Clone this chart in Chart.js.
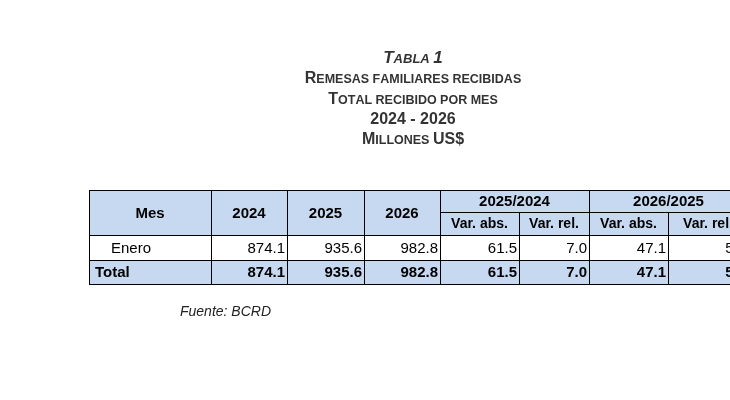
<!DOCTYPE html>
<html><head><meta charset="utf-8">
<script src="https://cdn.jsdelivr.net/npm/chart.js@4"></script>
<style>html,body{margin:0;padding:0;background:#fff}#w{width:730px;height:400px}</style>
</head><body><div id="w"><canvas id="c"></canvas></div>
<script>
const titleLines = ["Tabla 1","Remesas familiares recibidas","Total recibido por mes","2024 - 2026","Millones US$"];
const headers = ["Mes","2024","2025","2026"];
const groupHeaders = ["2025/2024","2026/2025"];
const subHeaders = ["Var. abs.","Var. rel.","Var. abs.","Var. rel."];
const rowLabels = ["Enero","Total"];
const v2024 = [874.1, 874.1];
const v2025 = [935.6, 935.6];
const v2026 = [982.8, 982.8];
const abs2524 = [61.5, 61.5];
const rel2524 = [7.0, 7.0];
const abs2625 = [47.1, 47.1];
const rel2625 = [5.0, 5.0];
const source = "Fuente: BCRD";

const colX = [89,211,287,364,440,519,589,668,748];
const rowY = [190,212,235,260,284];
const BLUE = "#c6d9f0";
const F = "'Liberation Sans', Arial, sans-serif";

function smallCaps(ctx, text, cx, y, big, small, style) {
  const parts = [];
  for (const word of text.split(" ")) {
    if (parts.length) parts.push({t:" ", s:small});
    let first = true;
    for (const ch of word) {
      const isUp = ch === ch.toUpperCase() && ch !== ch.toLowerCase();
      const isDigit = /[0-9$]/.test(ch);
      parts.push({t: ch.toUpperCase(), s: (isUp || isDigit) ? big : small});
      first = false;
    }
  }
  let w = 0;
  for (const p of parts) { ctx.font = style + " " + p.s + "px " + F; w += ctx.measureText(p.t).width; }
  let x = cx - w/2;
  ctx.textAlign = "left"; ctx.textBaseline = "alphabetic";
  for (const p of parts) { ctx.font = style + " " + p.s + "px " + F; ctx.fillText(p.t, x, y); x += ctx.measureText(p.t).width; }
}

const tablePlugin = {
  id: "table",
  afterDraw(chart) {
    const ctx = chart.ctx, sx = chart.scales.x, sy = chart.scales.y;
    const X = v => sx.getPixelForValue(v), Y = v => sy.getPixelForValue(v);
    ctx.save();
    ctx.fillStyle = "#333";
    const cx = X(413);
    smallCaps(ctx, titleLines[0], cx, Y(63), 17, 13, "italic bold");
    smallCaps(ctx, titleLines[1], cx, Y(83), 16, 12.5, "bold");
    smallCaps(ctx, titleLines[2], cx, Y(104), 16, 12.5, "bold");
    ctx.font = "bold 16px " + F; ctx.textAlign = "center"; ctx.textBaseline = "alphabetic";
    ctx.fillText(titleLines[3], cx, Y(124));
    smallCaps(ctx, titleLines[4], cx, Y(144), 16, 12.5, "bold");

    // fills
    ctx.fillStyle = BLUE;
    ctx.fillRect(X(colX[0]), Y(rowY[0]), X(colX[8]) - X(colX[0]), Y(rowY[2]) - Y(rowY[0]));
    ctx.fillRect(X(colX[0]), Y(rowY[3]), X(colX[8]) - X(colX[0]), Y(rowY[4]) - Y(rowY[3]));

    // lines
    ctx.strokeStyle = "#000"; ctx.lineWidth = 1;
    const hl = (y, x0, x1) => { ctx.beginPath(); ctx.moveTo(X(x0), Math.round(Y(y))+0.5); ctx.lineTo(X(x1), Math.round(Y(y))+0.5); ctx.stroke(); };
    const vl = (x, y0, y1) => { ctx.beginPath(); ctx.moveTo(Math.round(X(x))+0.5, Y(y0)); ctx.lineTo(Math.round(X(x))+0.5, Y(y1)); ctx.stroke(); };
    hl(rowY[0], colX[0], colX[8]); hl(rowY[1], colX[4], colX[8]);
    hl(rowY[2], colX[0], colX[8]); hl(rowY[3], colX[0], colX[8]); hl(rowY[4], colX[0], colX[8]);
    [0,1,2,3,4,6,8].forEach(i => vl(colX[i], rowY[0], rowY[4]));
    [5,7].forEach(i => vl(colX[i], rowY[1], rowY[4]));

    ctx.fillStyle = "#000"; ctx.textBaseline = "middle";
    ctx.font = "bold 15px " + F; ctx.textAlign = "center";
    headers.forEach((h, i) => ctx.fillText(h, (X(colX[i]) + X(colX[i+1]))/2, (Y(rowY[0]) + Y(rowY[2]))/2 + 1));
    groupHeaders.forEach((h, i) => ctx.fillText(h, (X(colX[4+2*i]) + X(colX[6+2*i]))/2, (Y(rowY[0]) + Y(rowY[1]))/2 + 1));
    ctx.font = "bold 14px " + F;
    subHeaders.forEach((h, i) => ctx.fillText(h, (X(colX[4+i]) + X(colX[5+i]))/2, (Y(rowY[1]) + Y(rowY[2]))/2 + 1));

    const cols = [v2024, v2025, v2026, abs2524, rel2524, abs2625, rel2625];
    rowLabels.forEach((lab, r) => {
      const bold = r === rowLabels.length - 1;
      const ym = (Y(rowY[2+r]) + Y(rowY[3+r]))/2 + 1;
      ctx.font = (bold ? "bold " : "") + "15px " + F;
      ctx.textAlign = "left";
      ctx.fillText(lab, X(colX[0]) + (bold ? 6 : 22), ym);
      ctx.textAlign = "right";
      cols.forEach((arr, c) => ctx.fillText(arr[r].toFixed(1), X(colX[c+1+ (c>=0?0:0)] ) + 0 + (X(colX[c+2]) - X(colX[c+1])) - 2, ym));
    });

    ctx.font = "italic 14px " + F; ctx.textAlign = "left"; ctx.fillStyle = "#222";
    ctx.fillText(source, X(180), Y(312));
    ctx.restore();
  }
};

new Chart(document.getElementById("c"), {
  type: "scatter",
  data: { datasets: [{ data: [] }] },
  options: {
    responsive: true, maintainAspectRatio: false, animation: false,
    layout: { padding: 0 },
    plugins: { legend: { display: false }, tooltip: { enabled: false } },
    scales: {
      x: { type: "linear", min: 0, max: 730, display: false },
      y: { type: "linear", min: 0, max: 400, reverse: true, display: false }
    }
  },
  plugins: [tablePlugin]
});
</script></body></html>
